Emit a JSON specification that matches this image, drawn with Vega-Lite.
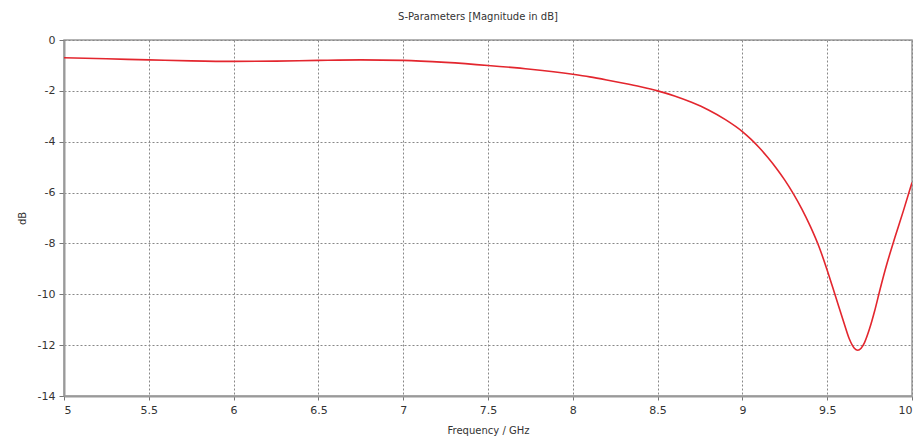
{
  "$schema": "https://vega.github.io/schema/vega-lite/v6.json",
  "width": 848,
  "height": 356,
  "autosize": {"type": "none"},
  "padding": {"left": 64, "top": 40, "right": 2, "bottom": 41},
  "background": "#ffffff",
  "title": {"text": "S-Parameters [Magnitude in dB]", "font": "DejaVu Sans", "fontSize": 10, "fontWeight": "normal", "color": "#333333", "offset": 12, "dx": -10},
  "config": {"view": {"stroke": "#9a9a9a", "strokeWidth": 1.5}},
  "data": {"values": [
    {"f": 5.0, "db": -0.70}, {"f": 5.25, "db": -0.74}, {"f": 5.5, "db": -0.78}, {"f": 5.75, "db": -0.82},
    {"f": 6.0, "db": -0.84}, {"f": 6.25, "db": -0.83}, {"f": 6.5, "db": -0.80}, {"f": 6.75, "db": -0.78},
    {"f": 7.0, "db": -0.80}, {"f": 7.25, "db": -0.88}, {"f": 7.5, "db": -1.0}, {"f": 7.75, "db": -1.15},
    {"f": 8.0, "db": -1.35}, {"f": 8.1, "db": -1.45}, {"f": 8.2, "db": -1.57}, {"f": 8.3, "db": -1.70},
    {"f": 8.4, "db": -1.84}, {"f": 8.5, "db": -2.0}, {"f": 8.6, "db": -2.2}, {"f": 8.7, "db": -2.45},
    {"f": 8.8, "db": -2.75}, {"f": 8.9, "db": -3.13}, {"f": 9.0, "db": -3.6}, {"f": 9.05, "db": -3.9},
    {"f": 9.1, "db": -4.24}, {"f": 9.15, "db": -4.62}, {"f": 9.2, "db": -5.04}, {"f": 9.25, "db": -5.51},
    {"f": 9.3, "db": -6.04}, {"f": 9.35, "db": -6.64}, {"f": 9.4, "db": -7.32}, {"f": 9.45, "db": -8.1},
    {"f": 9.5, "db": -9.05}, {"f": 9.55, "db": -10.1}, {"f": 9.6, "db": -11.15}, {"f": 9.63, "db": -11.75},
    {"f": 9.66, "db": -12.12}, {"f": 9.68, "db": -12.2}, {"f": 9.7, "db": -12.12}, {"f": 9.72, "db": -11.9},
    {"f": 9.75, "db": -11.35}, {"f": 9.78, "db": -10.65}, {"f": 9.81, "db": -9.85}, {"f": 9.85, "db": -8.85},
    {"f": 9.9, "db": -7.75}, {"f": 9.95, "db": -6.7}, {"f": 10.0, "db": -5.6}
  ]},
  "mark": {"type": "line", "color": "#e3262e", "strokeWidth": 1.6, "interpolate": "monotone", "clip": true},
  "encoding": {
    "x": {"field": "f", "type": "quantitative", "scale": {"domain": [5, 10], "nice": false},
      "axis": {"title": "Frequency / GHz", "values": [5, 5.5, 6, 6.5, 7, 7.5, 8, 8.5, 9, 9.5, 10],
        "labelExpr": "datum.value + ''",
        "labelFont": "DejaVu Sans", "labelFontSize": 11, "labelColor": "#333333", "labelPadding": 4,
        "titleFont": "DejaVu Sans", "titleFontSize": 10, "titleFontWeight": "normal", "titleColor": "#333333", "titlePadding": 10,
        "domainColor": "#9a9a9a", "domainWidth": 2, "tickColor": "#777777", "tickSize": 4,
        "gridColor": "#888888", "gridDash": [2, 2], "gridWidth": 1, "gridOpacity": 1}},
    "y": {"field": "db", "type": "quantitative", "scale": {"domain": [-14, 0], "nice": false},
      "axis": {"title": "dB", "values": [0, -2, -4, -6, -8, -10, -12, -14],
        "labelExpr": "datum.value + ''",
        "labelFont": "DejaVu Sans", "labelFontSize": 11, "labelColor": "#333333", "labelPadding": 4,
        "titleFont": "DejaVu Sans", "titleFontSize": 10, "titleFontWeight": "normal", "titleColor": "#333333", "titlePadding": 10,
        "domainColor": "#9a9a9a", "domainWidth": 2, "tickColor": "#777777", "tickSize": 5,
        "gridColor": "#888888", "gridDash": [2, 2], "gridWidth": 1, "gridOpacity": 1}}
  }
}
